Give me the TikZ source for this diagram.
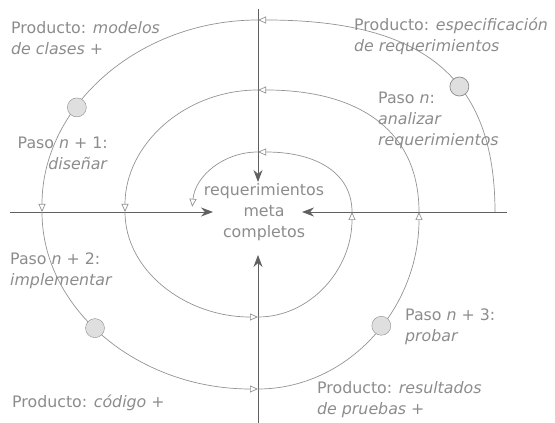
\documentclass[tikz,border=0pt]{standalone}
\usepackage{fontspec}
\setmainfont{DejaVu Sans}
\usetikzlibrary{arrows.meta,calc}

\tikzset{
  spiral/.style={draw=gray!85, line width=0.7pt, -{Triangle[open,length=8pt,width=7pt]}},
  axis/.style={draw=gray!75!black, line width=0.8pt, -{Stealth[length=12pt,width=9pt]}},
  note/.style={text=gray!90, font=\fontsize{15.8}{21}\selectfont, inner sep=0pt, align=left},
  stepdot/.style={circle, draw=gray!90, fill=gray!25, minimum size=19pt, inner sep=0pt},
}

\begin{document}
\begin{tikzpicture}[x=1pt,y=1pt]
 \useasboundingbox (0,0) rectangle (555,423);

 % CENTRE AND AXIS ENDS
 \coordinate (c) at (258,211);
 \coordinate (axN) at (258,414);
 \coordinate (axS) at (258,0);
 \coordinate (axW) at (10,211);
 \coordinate (axE) at (507,211);
 \coordinate (tipN) at (258,241);
 \coordinate (tipS) at (258,168);
 \coordinate (tipW) at (213,211);
 \coordinate (tipE) at (302,211);

 % SPIRAL CROSSINGS
 \coordinate (r0) at (495,211);
 \coordinate (t0) at (258,403);
 \coordinate (l0) at (42,211);
 \coordinate (b0) at (258,34);
 \coordinate (r1) at (419,211);
 \coordinate (t1) at (258,333);
 \coordinate (l1) at (125,211);
 \coordinate (b1) at (258,106);
 \coordinate (r2) at (352,211);
 \coordinate (t2) at (258,271);

 % AXES
 \draw[axis] (axN) -- (tipN);
 \draw[axis] (axS) -- (tipS);
 \draw[axis] (axW) -- (tipW);
 \draw[axis] (axE) -- (tipE);

 % SPIRAL
 \draw[spiral] (r0) .. controls +(0,134) and +(166,0) .. (t0)
   node[stepdot,pos=0.4] (dotA) {};
 \draw[spiral] (t0) arc[start angle=90,end angle=180,x radius=216pt,y radius=192pt];
 \draw[spiral] (l0) arc[start angle=180,end angle=270,x radius=216pt,y radius=177pt];
 \draw[spiral] (b0) arc[start angle=270,end angle=360,x radius=161pt,y radius=177pt];
 \draw[spiral] (r1) .. controls +(0,80) and +(103,0) .. (t1);
 \draw[spiral] (t1) arc[start angle=90,end angle=180,x radius=133pt,y radius=122pt];
 \draw[spiral] (l1) arc[start angle=180,end angle=270,x radius=133pt,y radius=105pt];
 \draw[spiral] (b1) arc[start angle=270,end angle=360,x radius=94pt,y radius=105pt];
 \draw[spiral] (r2) .. controls +(0,38) and +(60,0) .. (t2);
 \draw[spiral] (t2) arc[start angle=90,end angle=175,x radius=66pt,y radius=60pt];

 % STEP DOTS
 \node[stepdot] (dotB) at ($(c)+(147:216pt and 192pt)$) {};
 \node[stepdot] (dotC) at ($(c)+(221:216pt and 177pt)$) {};
 \node[stepdot] (dotD) at ($(c)+(320:161pt and 177pt)$) {};

 % NOTES
 \node[note,anchor=north west] (prodModelos) at (11,402)
   {Producto: \textit{modelos}\\\textit{de clases +}};
 \node[note,anchor=north west] (prodEspec) at (354,405)
   {Producto: \textit{especificación}\\\textit{de requerimientos}};
 \node[note,anchor=north west] (pasoN) at (378,331)
   {Paso \textit{n}:\\\textit{analizar}\\\textit{requerimientos}};
 \node[note,anchor=north east,align=right] (pasoN1) at (108,286)
   {Paso \textit{n} + 1:\\\textit{diseñar}};
 \node[note,align=center] (meta) at (264,211)
   {requerimientos\\meta\\completos};
 \node[note,anchor=north west] (pasoN2) at (10,170)
   {Paso \textit{n} + 2:\\\textit{implementar}};
 \node[note,anchor=west] (prodCodigo) at (12,20)
   {Producto: \textit{código +}};
 \node[note,anchor=north west] (pasoN3) at (405,114)
   {Paso \textit{n} + 3:\\\textit{probar}};
 \node[note,anchor=north west] (prodPruebas) at (317,42)
   {Producto: \textit{resultados}\\\textit{de pruebas +}};

\end{tikzpicture}
\end{document}
